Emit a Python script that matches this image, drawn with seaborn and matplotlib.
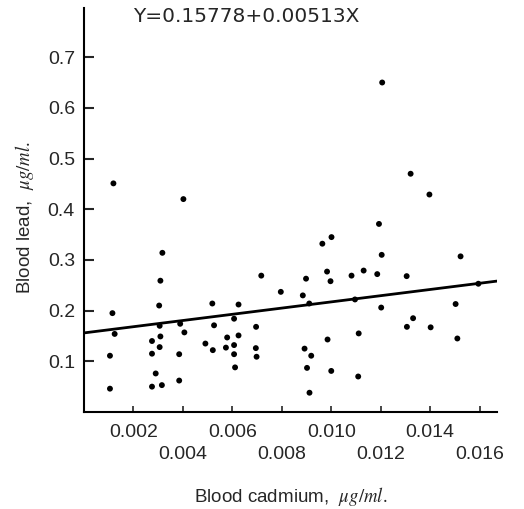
import numpy as np
import pandas as pd
import matplotlib
matplotlib.use("Agg")
import matplotlib.pyplot as plt
import seaborn as sns

# blood cadmium (ug/ml) and blood lead (ug/ml)
cadmium = [0.00317, 0.00309, 0.00304, 0.00115, 0.00124, 0.00105, 0.00105, 0.00306,
           0.00275, 0.00309, 0.00306, 0.00275, 0.00290, 0.00275, 0.00315, 0.00389,
           0.00406, 0.00385, 0.00385, 0.00519, 0.00526, 0.00491, 0.00521, 0.00625,
           0.00607, 0.00579, 0.00625, 0.00574, 0.00607, 0.00607, 0.00611, 0.00717,
           0.00796, 0.00696, 0.00695, 0.00698, 0.01001, 0.00964, 0.01204, 0.01523,
           0.00898, 0.00983, 0.00997, 0.01082, 0.01131, 0.01186, 0.01305, 0.00885,
           0.00911, 0.01096, 0.01202, 0.01595, 0.01503, 0.01331, 0.01306, 0.01402,
           0.01510, 0.00985, 0.01111, 0.00892, 0.00919, 0.00902, 0.01000, 0.01109,
           0.00912, 0.00119, 0.00402, 0.01206, 0.01321, 0.01397, 0.01193]
lead = [0.314, 0.259, 0.210, 0.195, 0.154, 0.111, 0.046, 0.170,
        0.140, 0.149, 0.128, 0.115, 0.076, 0.050, 0.053, 0.174,
        0.157, 0.114, 0.062, 0.214, 0.171, 0.135, 0.122, 0.212,
        0.184, 0.147, 0.151, 0.127, 0.132, 0.114, 0.088, 0.269,
        0.237, 0.168, 0.126, 0.109, 0.345, 0.332, 0.310, 0.307,
        0.263, 0.277, 0.258, 0.269, 0.279, 0.272, 0.268, 0.230,
        0.214, 0.222, 0.206, 0.253, 0.213, 0.185, 0.168, 0.167,
        0.145, 0.143, 0.155, 0.125, 0.111, 0.087, 0.081, 0.070,
        0.038, 0.451, 0.420, 0.650, 0.470, 0.429, 0.371]

# fitted line as drawn in the figure
intercept = 0.156
slope = 6.12
line_x = [0.0, 0.0167]

x_ticks = [0.002, 0.004, 0.006, 0.008, 0.010, 0.012, 0.014, 0.016]
y_ticks = [0.1, 0.2, 0.3, 0.4, 0.5, 0.6, 0.7]

df = pd.DataFrame({"cadmium": cadmium, "lead": lead})
fit = pd.DataFrame({"x": line_x})
fit["y"] = intercept + slope * fit["x"]

sns.set_style("ticks")
plt.rcParams["font.family"] = ["Liberation Sans", "DejaVu Sans"]
plt.rcParams["mathtext.fontset"] = "stix"

fig = plt.figure(figsize=(5.24, 5.09), dpi=100)
ax = fig.add_axes([0.1603, 0.1906, 0.788, 0.7937])

sns.scatterplot(data=df, x="cadmium", y="lead", color="black", s=18,
                edgecolor="none", ax=ax, zorder=3)
sns.lineplot(data=fit, x="x", y="y", color="black", linewidth=2.0, ax=ax)

ax.set_xlim(0, 0.0167)
ax.set_ylim(0, 0.797)

# staggered x tick labels: every second one drops to a lower row
ax.set_xticks(x_ticks)
ax.set_xticklabels([f"{t:.3f}" if i % 2 == 0 else f"\n{t:.3f}"
                    for i, t in enumerate(x_ticks)], fontsize=14)
for lab in ax.get_xticklabels():
    lab.set_linespacing(1.35)
ax.set_yticks(y_ticks)
ax.set_yticklabels([f"{t:.1f}" for t in y_ticks], fontsize=14)

ax.tick_params(axis="y", direction="in", length=7, width=1.5, pad=6.5)
ax.tick_params(axis="x", direction="in", length=4.5, width=1.2, pad=9)

sns.despine(ax=ax)
for side in ["left", "bottom"]:
    ax.spines[side].set_linewidth(1.5)
    ax.spines[side].set_color("black")

ax.set_xlabel(r"Blood cadmium,  $\mu g/ml.$", fontsize=13.5)
ax.set_ylabel(r"Blood lead,  $\mu g/ml.$", fontsize=13.5)
ax.xaxis.set_label_coords(0.5, -0.18)
ax.yaxis.set_label_coords(-0.117, 0.48)

ax.text(0.119, 0.979, "Y=0.15778+0.00513X", transform=ax.transAxes,
        fontsize=14.5, family="DejaVu Sans", va="center", ha="left")

fig.savefig("out.png", dpi=100)
